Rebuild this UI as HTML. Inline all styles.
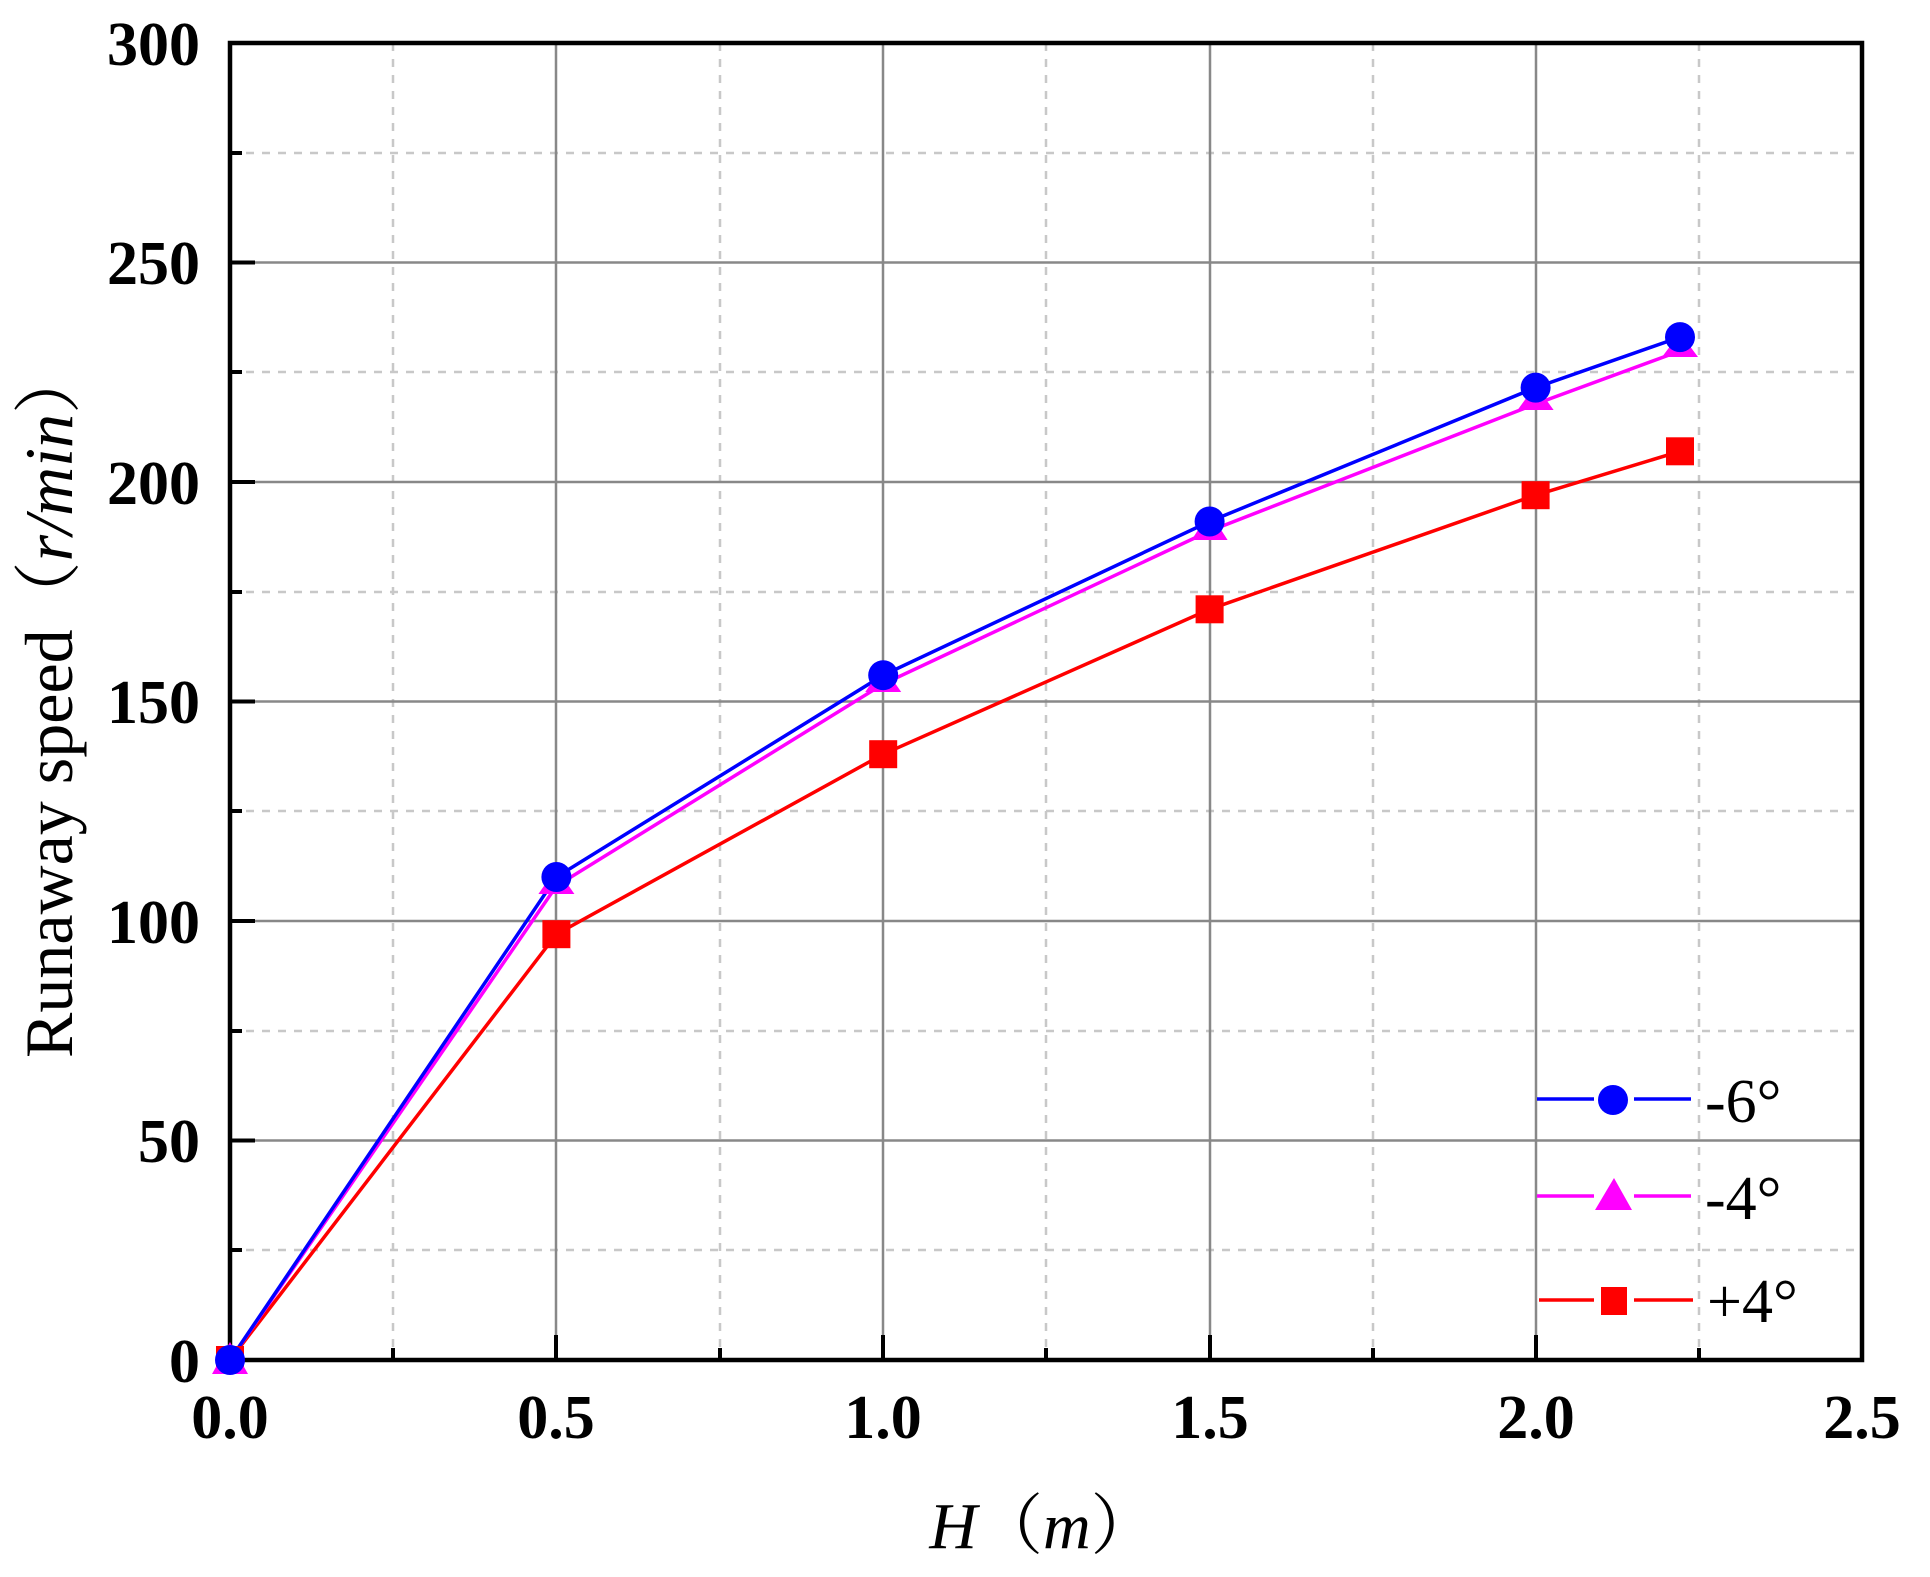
<!DOCTYPE html>
<html><head><meta charset="utf-8"><style>html,body{margin:0;padding:0;background:#fff}svg{display:block}</style></head><body>
<svg width="1930" height="1577" viewBox="0 0 1930 1577" xmlns="http://www.w3.org/2000/svg">
<g stroke="#c8c8c8" stroke-width="2.5" stroke-dasharray="8,8">
<line x1="393" y1="43" x2="393" y2="1360"/><line x1="720" y1="43" x2="720" y2="1360"/><line x1="1046" y1="43" x2="1046" y2="1360"/><line x1="1373" y1="43" x2="1373" y2="1360"/><line x1="1699" y1="43" x2="1699" y2="1360"/>
<line x1="230" y1="1250" x2="1862" y2="1250"/><line x1="230" y1="1031" x2="1862" y2="1031"/><line x1="230" y1="811" x2="1862" y2="811"/><line x1="230" y1="592" x2="1862" y2="592"/><line x1="230" y1="372" x2="1862" y2="372"/><line x1="230" y1="153" x2="1862" y2="153"/>
</g>
<g stroke="#888" stroke-width="2.5">
<line x1="556" y1="43" x2="556" y2="1360"/><line x1="883" y1="43" x2="883" y2="1360"/><line x1="1210" y1="43" x2="1210" y2="1360"/><line x1="1536" y1="43" x2="1536" y2="1360"/>
<line x1="230" y1="1140.5" x2="1862" y2="1140.5"/><line x1="230" y1="921" x2="1862" y2="921"/><line x1="230" y1="701.5" x2="1862" y2="701.5"/><line x1="230" y1="482" x2="1862" y2="482"/><line x1="230" y1="262.5" x2="1862" y2="262.5"/>
</g>
<rect x="230" y="43" width="1632" height="1317" fill="none" stroke="#000" stroke-width="4.5"/>
<g stroke="#000" stroke-width="4">
<line x1="230" y1="1140.5" x2="255" y2="1140.5"/><line x1="230" y1="921" x2="255" y2="921"/><line x1="230" y1="701.5" x2="255" y2="701.5"/><line x1="230" y1="482" x2="255" y2="482"/><line x1="230" y1="262.5" x2="255" y2="262.5"/>
<line x1="230" y1="1250" x2="242" y2="1250"/><line x1="230" y1="1031" x2="242" y2="1031"/><line x1="230" y1="811" x2="242" y2="811"/><line x1="230" y1="592" x2="242" y2="592"/><line x1="230" y1="372" x2="242" y2="372"/><line x1="230" y1="153" x2="242" y2="153"/>
<line x1="556" y1="1360" x2="556" y2="1335"/><line x1="883" y1="1360" x2="883" y2="1335"/><line x1="1210" y1="1360" x2="1210" y2="1335"/><line x1="1536" y1="1360" x2="1536" y2="1335"/>
<line x1="393" y1="1360" x2="393" y2="1348"/><line x1="720" y1="1360" x2="720" y2="1348"/><line x1="1046" y1="1360" x2="1046" y2="1348"/><line x1="1373" y1="1360" x2="1373" y2="1348"/><line x1="1699" y1="1360" x2="1699" y2="1348"/>
</g>
<g font-family="Liberation Serif, serif" font-weight="bold" font-size="62" fill="#000">
<g text-anchor="end">
<text x="200" y="65">300</text><text x="200" y="284">250</text><text x="200" y="504">200</text><text x="200" y="723">150</text><text x="200" y="943">100</text><text x="200" y="1162">50</text><text x="200" y="1382">0</text>
</g>
<g text-anchor="middle">
<text x="230" y="1438">0.0</text><text x="556" y="1438">0.5</text><text x="883" y="1438">1.0</text><text x="1210" y="1438">1.5</text><text x="1536" y="1438">2.0</text><text x="1862" y="1438">2.5</text>
</g>
</g>
<text transform="translate(72,702) rotate(-90)" text-anchor="middle" font-family="Liberation Serif, 'Noto Serif CJK SC', serif" font-size="68">Runaway speed（<tspan font-style="italic">r/min</tspan>）</text>
<text x="1043" y="1548" text-anchor="middle" font-family="Liberation Serif, 'Noto Serif CJK SC', serif" font-size="66"><tspan font-style="italic">H</tspan>（<tspan font-style="italic">m</tspan>）</text>
<g fill="none" stroke-width="3.5">
<polyline stroke="#ff0000" points="230,1360 556.4,934.2 883.2,754.2 1209.6,609.3 1535.6,495.2 1680,451.3"/>
<polyline stroke="#ff00ff" points="230,1360 556.4,886 883.2,684 1209.6,531 1535.6,404 1680,351"/>
<polyline stroke="#0000ff" points="230,1360 556.4,877 883.2,675.2 1209.6,521.5 1535.6,387.6 1680,337.1"/>
</g>
<g fill="#ff0000">
<rect x="216" y="1346" width="28" height="28"/><rect x="542.4" y="920.2" width="28" height="28"/><rect x="869.2" y="740.2" width="28" height="28"/><rect x="1195.6" y="595.3" width="28" height="28"/><rect x="1521.6" y="481.2" width="28" height="28"/><rect x="1666" y="437.3" width="28" height="28"/>
</g>
<g fill="#ff00ff">
<polygon points="230,1342 248,1374 212,1374"/><polygon points="556.4,868 574.4,894 538.4,894"/><polygon points="883.2,666 901.2,692 865.2,692"/><polygon points="1209.6,512 1227.6,540 1191.6,540"/><polygon points="1535.6,385 1553.6,410 1517.6,410"/><polygon points="1680,333 1698,357 1662,357"/>
</g>
<g fill="#0000ff">
<circle cx="230" cy="1360" r="15"/><circle cx="556.4" cy="877" r="15"/><circle cx="883.2" cy="675.2" r="15"/><circle cx="1209.6" cy="521.5" r="15"/><circle cx="1535.6" cy="387.6" r="15"/><circle cx="1680" cy="337.1" r="15"/>
</g>
<g stroke-width="3.5">
<line x1="1537" y1="1099" x2="1594" y2="1099" stroke="#0000ff"/><line x1="1634" y1="1099" x2="1691" y2="1099" stroke="#0000ff"/>
<line x1="1537" y1="1196" x2="1594" y2="1196" stroke="#ff00ff"/><line x1="1634" y1="1196" x2="1691" y2="1196" stroke="#ff00ff"/>
<line x1="1539" y1="1300" x2="1594" y2="1300" stroke="#ff0000"/><line x1="1634" y1="1300" x2="1693" y2="1300" stroke="#ff0000"/>
</g>
<circle cx="1613" cy="1100" r="15" fill="#0000ff"/>
<polygon points="1614,1178 1632,1210 1595,1210" fill="#ff00ff"/>
<rect x="1601" y="1287" width="26" height="28" fill="#ff0000"/>
<g font-family="Liberation Serif, serif" font-size="62" fill="#000">
<text x="1705" y="1122">-6°</text><text x="1705" y="1219">-4°</text><text x="1707" y="1322">+4°</text>
</g>
</svg>
</body></html>
